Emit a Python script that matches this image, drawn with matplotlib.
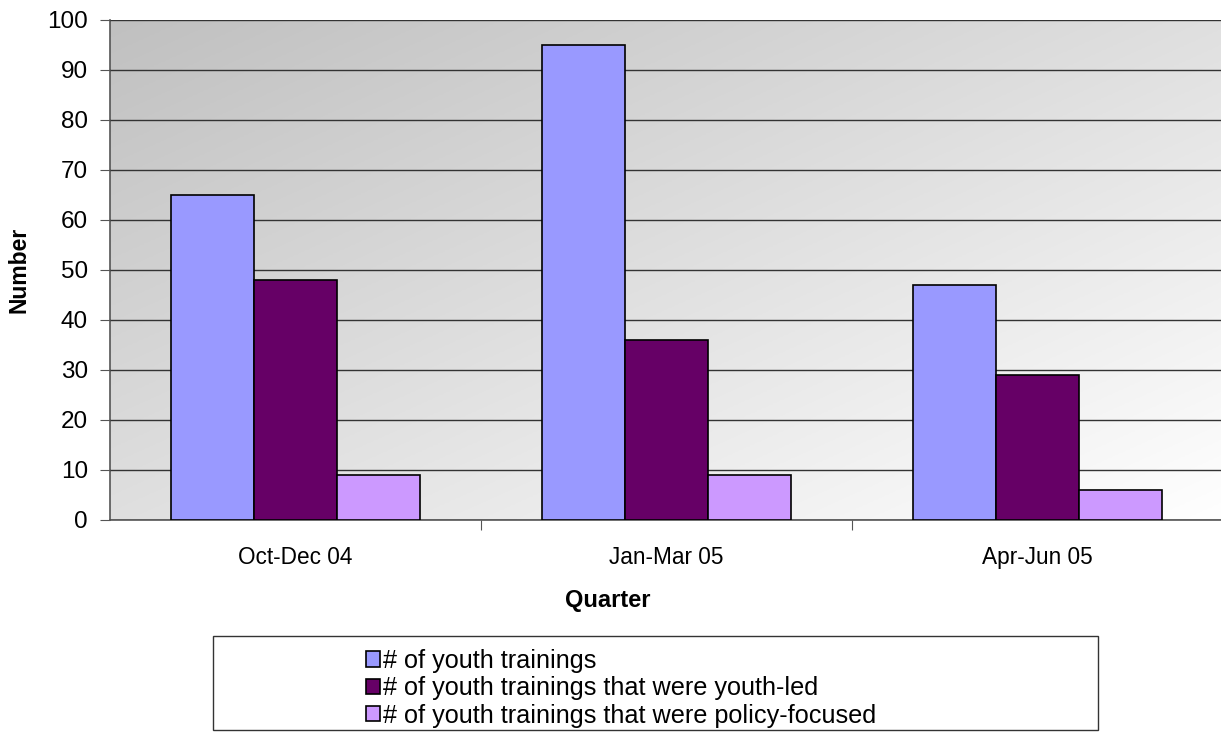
import numpy as np
import matplotlib.pyplot as plt
from matplotlib.patches import Rectangle, Patch

quarters = ['Oct-Dec 04', 'Jan-Mar 05', 'Apr-Jun 05']
trainings = [65, 95, 47]
youth_led = [48, 36, 29]
policy = [9, 9, 6]
series_names = ['# of youth trainings',
                '# of youth trainings that were youth-led',
                '# of youth trainings that were policy-focused']
colors = ['#9999FF', '#660066', '#CC99FF']

plt.rcParams['font.family'] = ['Liberation Sans', 'DejaVu Sans']

W, H = 1221, 736
fig = plt.figure(figsize=(W / 100, H / 100), dpi=100)
ax = fig.add_axes([110 / W, 1 - 520 / H, 1113 / W, 500 / H])

# diagonal grey -> white background
xx, yy = np.meshgrid(np.linspace(0, 1, 200), np.linspace(1, 0, 200))
t = (xx + (1 - yy)) / 2
c0, c1 = 0xC0 / 255, 1.0
grad = c0 + (c1 - c0) * t
ax.imshow(np.dstack([grad, grad, grad]), extent=[0, 1, 0, 1], transform=ax.transAxes,
          aspect='auto', zorder=0)

x = np.arange(len(quarters))
w = 0.224
for i, (vals, col) in enumerate(zip([trainings, youth_led, policy], colors)):
    ax.bar(x + (i - 1) * w, vals, w, color=col, edgecolor='black', linewidth=1.2, zorder=3)

ax.set_xlim(-0.5, 2.5)
ax.set_ylim(0, 100)
ax.set_yticks(range(0, 101, 10))
ax.yaxis.grid(True, color='#333333', linewidth=1.0, zorder=1)
ax.set_axisbelow(False)
for s in ['top', 'right']:
    ax.spines[s].set_visible(False)
ax.spines['left'].set_color('#555555')
ax.spines['bottom'].set_color('#555555')
ax.spines['left'].set_linewidth(1.2)
ax.spines['bottom'].set_linewidth(1.2)

ax.set_xticks([0.5, 1.5])
ax.set_xticklabels([])
ax.set_xticks(x, minor=True)
ax.set_xticklabels(quarters, minor=True, fontsize=16.3)
ax.tick_params(axis='x', which='minor', length=0, pad=19)
ax.tick_params(axis='x', which='major', length=7, color='#555555', direction='out')
ax.tick_params(axis='y', length=7, color='#555555', labelsize=17.5, pad=9)

ax.set_ylabel('Number', fontsize=16.5, fontweight='bold', labelpad=12)
fig.text(608 / W, 1 - 600 / H, 'Quarter', fontsize=17, fontweight='bold',
         ha='center', va='center')

# legend box
fig.add_artist(Rectangle((213 / W, 1 - 730 / H), (1098 - 213) / W, 94 / H,
                         transform=fig.transFigure, facecolor='white',
                         edgecolor='#333333', linewidth=1.0))
handles = [Patch(facecolor=c, edgecolor='black', linewidth=1.2) for c in colors]
fig.legend(handles, series_names, loc='upper left', bbox_to_anchor=(366 / W, 1 - 649 / H),
           frameon=False, fontsize=18.2, handlelength=0.55, handleheight=0.55,
           handletextpad=0.12, labelspacing=0.13, borderpad=0, borderaxespad=0)

fig.savefig('out.png', dpi=100)
